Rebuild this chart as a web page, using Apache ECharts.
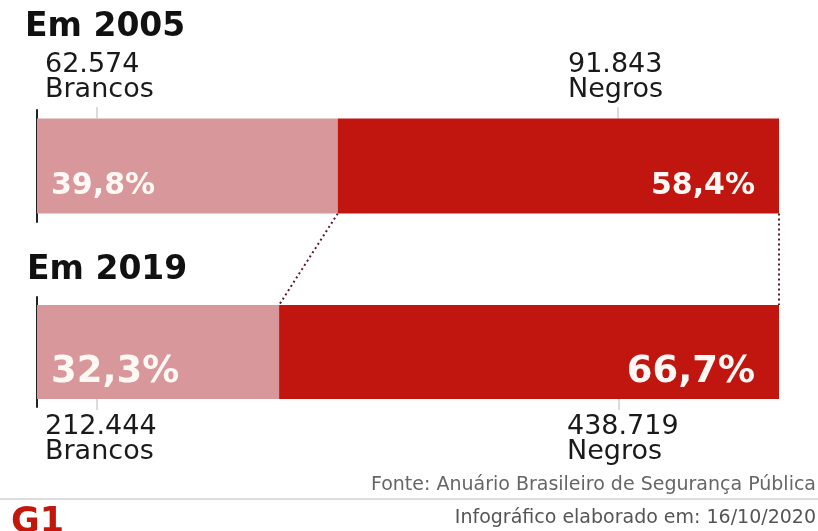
<!DOCTYPE html>
<html>
<head>
<meta charset="utf-8">
<script src="https://cdn.jsdelivr.net/npm/echarts@6/dist/echarts.min.js"></script>
<style>html,body{margin:0;padding:0;background:#fff}#main{width:818px;height:531px}</style>
</head>
<body>
<div id="main"></div>
<script>
const years = ['Em 2005', 'Em 2019'];
const brancosPct = [39.8, 32.3];
const negrosPct = [58.4, 66.7];
const brancosCount = ['62.574', '212.444'];
const negrosCount = ['91.843', '438.719'];
const groupLabels = ['Brancos', 'Negros'];
const source = 'Fonte: Anuário Brasileiro de Segurança Pública';
const credit = 'Infográfico elaborado em: 16/10/2020';

const FONT = '"DejaVu Sans", sans-serif';
const LIGHT = '#d8979a';
const DARK = '#c1150f';
const pctFont = [30, 37];
const grids = [
  { left: 37, right: 39, top: 110, height: 112 },
  { left: 37, right: 39, top: 297, height: 110 }
];
const barW = [95, 94];
const fmt = v => v.toFixed(1).replace('.', ',') + '%';

const option = {
  animation: false,
  backgroundColor: '#ffffff',
  grid: grids,
  xAxis: years.map((y, i) => ({
    type: 'value', gridIndex: i, min: 0, max: brancosPct[i] + negrosPct[i],
    show: false
  })),
  yAxis: years.map((y, i) => ({
    type: 'category', gridIndex: i, data: [y],
    axisLine: { show: true, lineStyle: { color: '#222', width: 2 } },
    axisTick: { show: false }, axisLabel: { show: false }, splitLine: { show: false }
  })),
  series: []
};

years.forEach((y, i) => {
  option.series.push({
    type: 'bar', name: groupLabels[0], stack: 's' + i, xAxisIndex: i, yAxisIndex: i,
    barWidth: barW[i],
    itemStyle: { color: LIGHT },
    label: {
      show: true, position: 'insideLeft', distance: 14, offset: [0, 20],
      formatter: p => fmt(p.value), color: '#fff8f4',
      fontFamily: FONT, fontWeight: 'bold', fontSize: pctFont[i]
    },
    data: [brancosPct[i]]
  });
  option.series.push({
    type: 'bar', name: groupLabels[1], stack: 's' + i, xAxisIndex: i, yAxisIndex: i,
    barWidth: barW[i],
    itemStyle: { color: DARK },
    label: {
      show: true, position: 'insideRight', distance: 24, offset: [0, 20],
      formatter: p => fmt(p.value), color: '#fff8f4',
      fontFamily: FONT, fontWeight: 'bold', fontSize: pctFont[i]
    },
    data: [negrosPct[i]]
  });
});

const chart = echarts.init(document.getElementById('main'), null, { renderer: 'canvas' });
chart.setOption(option);

// Geometry derived from the axes
const xEnd0B = chart.convertToPixel({ xAxisIndex: 0 }, brancosPct[0]);
const xEnd1B = chart.convertToPixel({ xAxisIndex: 1 }, brancosPct[1]);
const xEnd0 = chart.convertToPixel({ xAxisIndex: 0 }, brancosPct[0] + negrosPct[0]);
const xEnd1 = chart.convertToPixel({ xAxisIndex: 1 }, brancosPct[1] + negrosPct[1]);
const yC0 = chart.convertToPixel({ yAxisIndex: 0 }, years[0]);
const yC1 = chart.convertToPixel({ yAxisIndex: 1 }, years[1]);
const bot0 = yC0 + barW[0] / 2;
const top1 = yC1 - barW[1] / 2;
const top0 = yC0 - barW[0] / 2;
const bot1 = yC1 + barW[1] / 2;

const dotted = { stroke: '#5e1a28', lineWidth: 2, lineDash: [2, 3] };
const tick = { stroke: '#b8b8b8', lineWidth: 1 };
const txt = (x, y, text, size, opts) => Object.assign({
  type: 'text', x: x, y: y,
  style: Object.assign({ text: text, fontFamily: FONT, fontSize: size, fill: '#1a1a1a',
    align: 'left', verticalAlign: 'middle' }, opts || {})
});

chart.setOption({
  graphic: [
    txt(25, 27, years[0], 33, { fontWeight: 'bold', fill: '#111' }),
    txt(27, 270, years[1], 33, { fontWeight: 'bold', fill: '#111' }),
    txt(45, 77, brancosCount[0] + '\n' + groupLabels[0], 27, { lineHeight: 25 }),
    txt(568, 77, negrosCount[0] + '\n' + groupLabels[1], 27, { lineHeight: 25 }),
    txt(45, 439, brancosCount[1] + '\n' + groupLabels[0], 27, { lineHeight: 25 }),
    txt(567, 439, negrosCount[1] + '\n' + groupLabels[1], 27, { lineHeight: 25 }),
    { type: 'line', shape: { x1: 97, y1: 107, x2: 97, y2: top0 }, style: tick },
    { type: 'line', shape: { x1: 618, y1: 107, x2: 618, y2: top0 }, style: tick },
    { type: 'line', shape: { x1: 97, y1: bot1, x2: 97, y2: 410 }, style: tick },
    { type: 'line', shape: { x1: 619, y1: bot1, x2: 619, y2: 410 }, style: tick },
    { type: 'line', shape: { x1: xEnd0B, y1: bot0, x2: xEnd1B, y2: top1 }, style: dotted },
    { type: 'line', shape: { x1: xEnd0, y1: bot0, x2: xEnd1, y2: top1 }, style: dotted },
    txt(816, 485, source, 19, { align: 'right', fill: '#666' }),
    { type: 'line', shape: { x1: 0, y1: 499, x2: 818, y2: 499 }, style: { stroke: '#dcdcdc', lineWidth: 2 } },
    txt(816, 518, credit, 19, { align: 'right', fill: '#555' }),
    txt(11, 505, 'G1', 35, { fontWeight: 900, fill: '#c4170c', verticalAlign: 'top' })
  ]
});
</script>
</body>
</html>
